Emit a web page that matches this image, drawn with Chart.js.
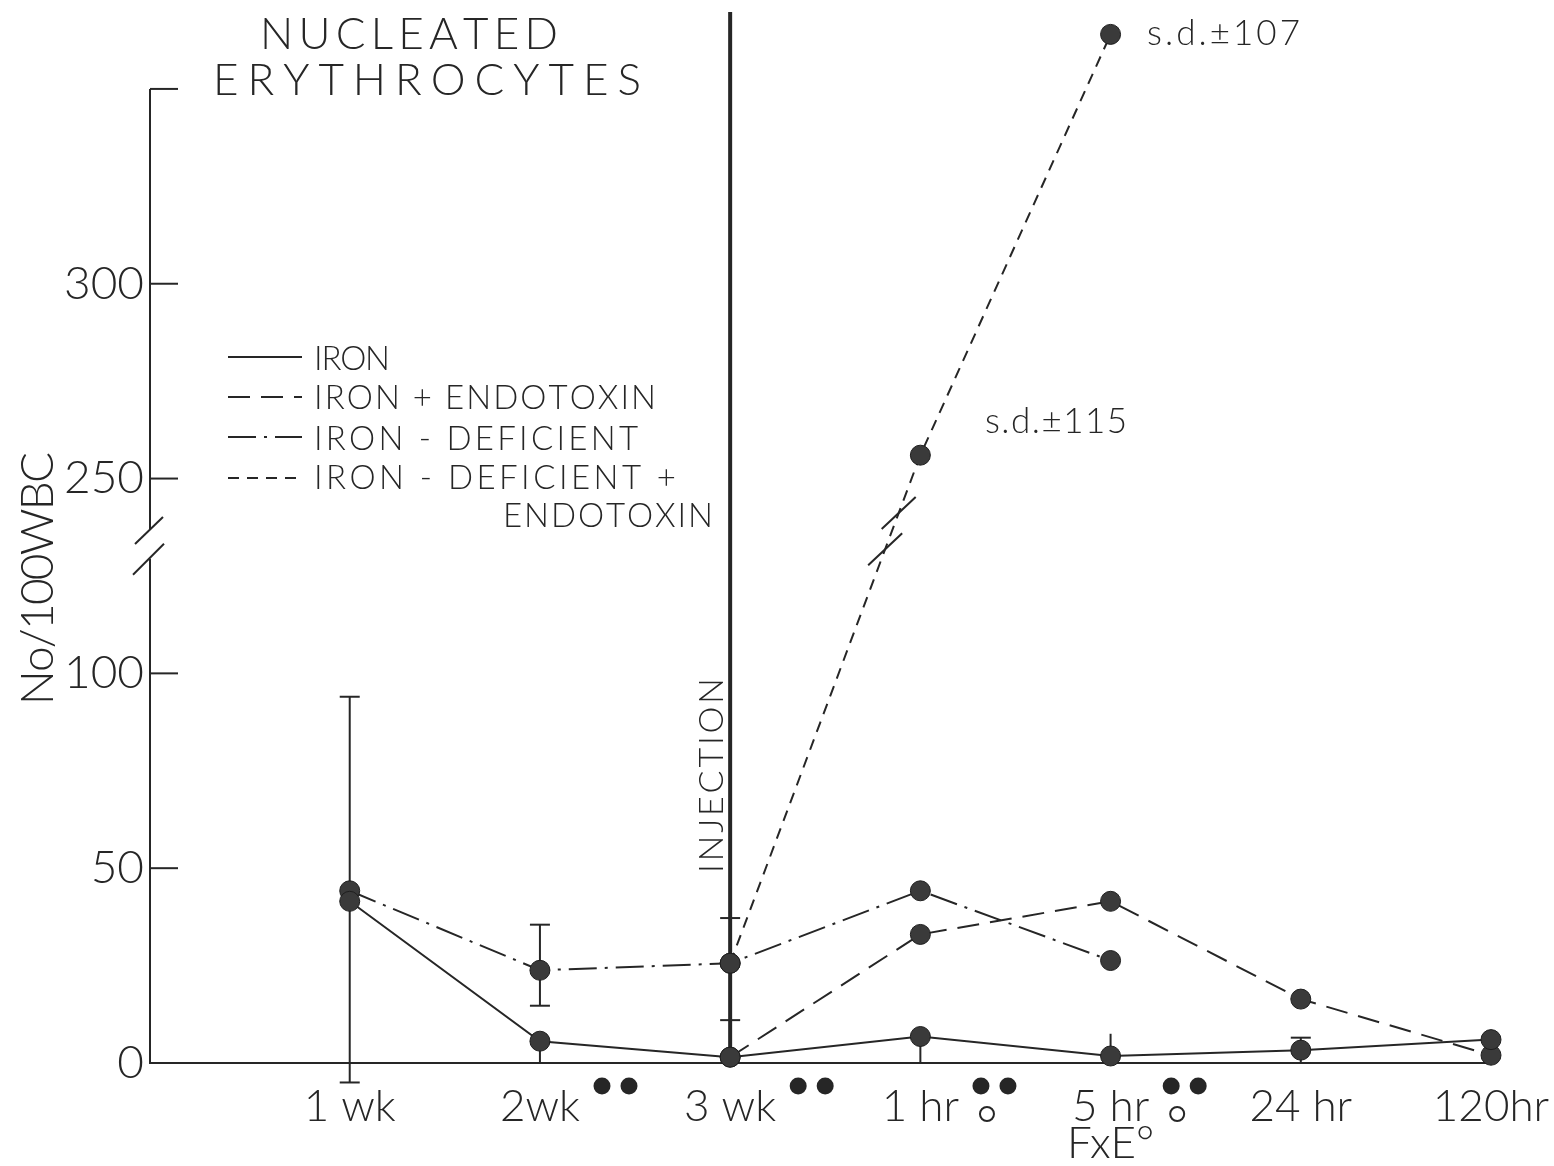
<!DOCTYPE html>
<html>
<head>
<meta charset="utf-8">
<script src="https://cdn.jsdelivr.net/npm/chart.js@4.4.1/dist/chart.umd.min.js"></script>
<style>
  html, body { margin: 0; padding: 0; background: #fff; }
  canvas { display: block; }
</style>
</head>
<body>
<canvas id="nrbcChart" width="1554" height="1166"></canvas>
<script>
// sampling times, placed at x = 1..7
var timeLabels = ["1 wk", "2wk", "3 wk", "1 hr", "5 hr", "24 hr", "120hr"];
var timeSubLabels = ["", "", "", "", "FxE°", "", ""];
var sigDots = [0, 2, 2, 2, 2, 0, 0];
var sigSub = [false, false, false, true, true, false, false];

// nucleated erythrocytes, No/100 WBC
var iron        = [41.5, 5.6, 1.5, 6.8, 1.8, 3.3, 6.0];
var ironEndo    = [null, null, 1.5, 33.0, 41.5, 16.4, 2.0];
var ironDef     = [44.2, 23.8, 25.6, 44.2, 26.3, null, null];
var ironDefEndo = [null, null, 25.6, 256, 364, null, null];

// error bars
var ironErrLow     = [-5, 0, null, 0, null, 0, null];
var ironErrHigh    = [94, null, null, null, 7.5, 6.5, null];
var ironDefErrLow  = [null, 14.7, 11, null, null, null, null];
var ironDefErrHigh = [null, 35.5, 37.2, null, null, null, null];

// y axis is broken between 100 and 250; the top tick has no label
var yTickValues = [0, 50, 100, 250, 300, 350];
var yTickLabels = ["0", "50", "100", "250", "300", ""];
var breakGap = 100;

var INK = "#262626";
var FONT = "Lato, 'Open Sans', sans-serif";

function plotY(v) {
    return v > 200 ? v - breakGap : v;
}

function toPoints(arr) {
    return arr.map(function (v, i) {
        return { x: i + 1, y: v === null ? null : plotY(v) };
    });
}

function spacedText(ctx, text, x, y, width) {
    var chars = text.split("");
    var widths = chars.map(function (c) { return ctx.measureText(c).width; });
    var sum = widths.reduce(function (a, b) { return a + b; }, 0);
    var extra = chars.length > 1 ? (width - sum) / (chars.length - 1) : 0;
    var cx = x;
    chars.forEach(function (c, i) {
        ctx.fillText(c, cx, y);
        cx += widths[i] + extra;
    });
}

function rotatedText(ctx, text, x, y, width) {
    ctx.save();
    ctx.translate(x, y);
    ctx.rotate(-Math.PI / 2);
    spacedText(ctx, text, 0, 0, width);
    ctx.restore();
}

function line(ctx, x1, y1, x2, y2) {
    ctx.beginPath();
    ctx.moveTo(x1, y1);
    ctx.lineTo(x2, y2);
    ctx.stroke();
}

function drawErrors(ctx, xs, ys, values, lows, highs) {
    for (var i = 0; i < values.length; i++) {
        if (lows[i] === null && highs[i] === null) continue;
        var x = xs.getPixelForValue(i + 1);
        var hi = ys.getPixelForValue(plotY(highs[i] !== null ? highs[i] : values[i]));
        var lo = ys.getPixelForValue(plotY(lows[i] !== null ? lows[i] : values[i]));
        line(ctx, x, hi, x, lo);
        if (lows[i] !== null && highs[i] !== null) {
            line(ctx, x - 10, hi, x + 10, hi);
            line(ctx, x - 10, lo, x + 10, lo);
        }
    }
}

var decorPlugin = {
    id: "decor",
    beforeDatasetsDraw: function (chart) {
        var ctx = chart.ctx, xs = chart.scales.x, ys = chart.scales.y;
        ctx.save();
        ctx.strokeStyle = INK;
        // injection marker at 3 wk
        var xi = xs.getPixelForValue(3);
        ctx.lineWidth = 4;
        line(ctx, xi, 12, xi, ys.getPixelForValue(0));
        ctx.lineWidth = 2;
        drawErrors(ctx, xs, ys, iron, ironErrLow, ironErrHigh);
        drawErrors(ctx, xs, ys, ironDef, ironDefErrLow, ironDefErrHigh);
        ctx.restore();
    },
    afterDraw: function (chart) {
        var ctx = chart.ctx, xs = chart.scales.x, ys = chart.scales.y;
        var ax = chart.chartArea.left;
        ctx.save();
        ctx.strokeStyle = INK;
        ctx.fillStyle = INK;
        ctx.lineWidth = 2;

        // y axis with break
        var yTop = ys.getPixelForValue(plotY(350));
        var b1 = ys.getPixelForValue(136.8), b2 = ys.getPixelForValue(129.4);
        line(ctx, ax, yTop, ax, b1);
        line(ctx, ax, b2, ax, ys.getPixelForValue(0));
        line(ctx, ax - 15, b1 + 14, ax + 13, b1 - 13);
        line(ctx, ax - 17, b2 + 16, ax + 14, b2 - 15);
        yTickValues.forEach(function (v) {
            if (v === 0) return;
            var y = ys.getPixelForValue(plotY(v));
            line(ctx, ax, y, ax + 28, y);
        });

        // break marks on the iron-deficient + endotoxin line
        var meta = chart.getDatasetMeta(3);
        var p0 = meta.data[2], p1 = meta.data[3];
        [0.886, 0.815].forEach(function (t) {
            var cx = p0.x + (p1.x - p0.x) * t;
            var cy = p0.y + (p1.y - p0.y) * t;
            line(ctx, cx - 17, cy + 16, cx + 17, cy - 16);
        });

        // significance markers next to the time labels
        ctx.font = "300 44px " + FONT;
        var tickTop = ys.getPixelForValue(0);
        for (var i = 0; i < timeLabels.length; i++) {
            var w = ctx.measureText(timeLabels[i]).width;
            var right = xs.getPixelForValue(i + 1) + w / 2;
            for (var d = 0; d < sigDots[i]; d++) {
                ctx.beginPath();
                ctx.arc(right + 22 + d * 27, tickTop + 23, 8.5, 0, Math.PI * 2);
                ctx.fill();
            }
            if (sigSub[i]) {
                ctx.beginPath();
                ctx.arc(right + 28, tickTop + 51, 7, 0, Math.PI * 2);
                ctx.stroke();
            }
        }

        // title
        ctx.font = "300 44px " + FONT;
        spacedText(ctx, "NUCLEATED", 260, 49, 298);
        spacedText(ctx, "ERYTHROCYTES", 213, 95, 428);

        // axis title and injection label
        ctx.font = "300 46px " + FONT;
        rotatedText(ctx, "No/100WBC", 53, 705, 253);
        ctx.font = "300 34px " + FONT;
        rotatedText(ctx, "INJECTION", 723, 873, 195);

        // s.d. notes
        ctx.font = "300 35px " + FONT;
        spacedText(ctx, "s.d.±107", 1147, 45, 153);
        spacedText(ctx, "s.d.±115", 985, 433, 142);

        // legend
        var rows = [357, 397, 437, 478];
        var texts = [
            ["IRON", 314, 370, 76],
            ["IRON + ENDOTOXIN", 314, 409, 342],
            ["IRON - DEFICIENT", 314, 450, 324],
            ["IRON - DEFICIENT +", 314, 489, 362],
            ["ENDOTOXIN", 503, 527, 210]
        ];
        ctx.lineWidth = 2;
        chart.data.datasets.forEach(function (ds, k) {
            ctx.setLineDash(ds.borderDash || []);
            line(ctx, 228, rows[k], 302, rows[k]);
        });
        ctx.setLineDash([]);
        ctx.font = "300 33px " + FONT;
        texts.forEach(function (t) { spacedText(ctx, t[0], t[1], t[2], t[3]); });
        ctx.restore();
    }
};

function baseDataset(label, values, dash) {
    return {
        label: label,
        data: toPoints(values),
        borderColor: INK,
        borderWidth: 2,
        borderDash: dash,
        pointRadius: 10,
        pointBackgroundColor: "#3a3a3a",
        pointBorderColor: "#1e1e1e",
        pointBorderWidth: 1,
        tension: 0,
        clip: false
    };
}

function makeChart() {
    var shownY = yTickValues.filter(function (v, i) { return yTickLabels[i] !== ""; });
    var shownLabels = yTickLabels.filter(function (l) { return l !== ""; });
    var ctx = document.getElementById("nrbcChart").getContext("2d");
    new Chart(ctx, {
        type: "line",
        data: {
            datasets: [
                baseDataset("IRON", iron, []),
                baseDataset("IRON + ENDOTOXIN", ironEndo, [22, 11]),
                baseDataset("IRON - DEFICIENT", ironDef, [28, 8, 3, 8]),
                baseDataset("IRON - DEFICIENT + ENDOTOXIN", ironDefEndo, [11, 8])
            ]
        },
        options: {
            responsive: false,
            animation: false,
            layout: { padding: { top: 7, right: 63, bottom: 0, left: 0 } },
            plugins: {
                legend: { display: false },
                tooltip: { enabled: false }
            },
            scales: {
                x: {
                    type: "linear",
                    min: -0.05,
                    max: 7,
                    afterFit: function (scale) {
                        scale.height = 103;
                        scale.paddingLeft = 0;
                        scale.paddingRight = 0;
                    },
                    afterBuildTicks: function (scale) {
                        scale.ticks = timeLabels.map(function (l, i) { return { value: i + 1 }; });
                    },
                    grid: { display: true, drawOnChartArea: false, drawTicks: false, color: "rgba(0,0,0,0)" },
                    border: { display: true, color: INK, width: 2 },
                    ticks: {
                        autoSkip: false,
                        maxRotation: 0,
                        padding: 25,
                        color: INK,
                        font: { family: FONT, size: 44, weight: 300, lineHeight: 0.85 },
                        callback: function (value, index) {
                            return timeSubLabels[index] ? [timeLabels[index], timeSubLabels[index]] : timeLabels[index];
                        }
                    }
                },
                y: {
                    type: "linear",
                    min: 0,
                    max: 270,
                    afterFit: function (scale) {
                        scale.width = 150;
                        scale.paddingTop = 0;
                        scale.paddingBottom = 0;
                    },
                    afterBuildTicks: function (scale) {
                        scale.ticks = shownY.map(function (v) { return { value: plotY(v) }; });
                    },
                    grid: { display: false, drawTicks: false },
                    border: { display: false },
                    ticks: {
                        padding: 6,
                        color: INK,
                        font: { family: FONT, size: 46, weight: 300 },
                        callback: function (value, index) { return shownLabels[index]; }
                    }
                }
            }
        },
        plugins: [decorPlugin]
    });
}

if (document.fonts && document.fonts.load) {
    document.fonts.load("300 40px Lato").then(makeChart, makeChart);
} else {
    makeChart();
}
</script>
</body>
</html>
